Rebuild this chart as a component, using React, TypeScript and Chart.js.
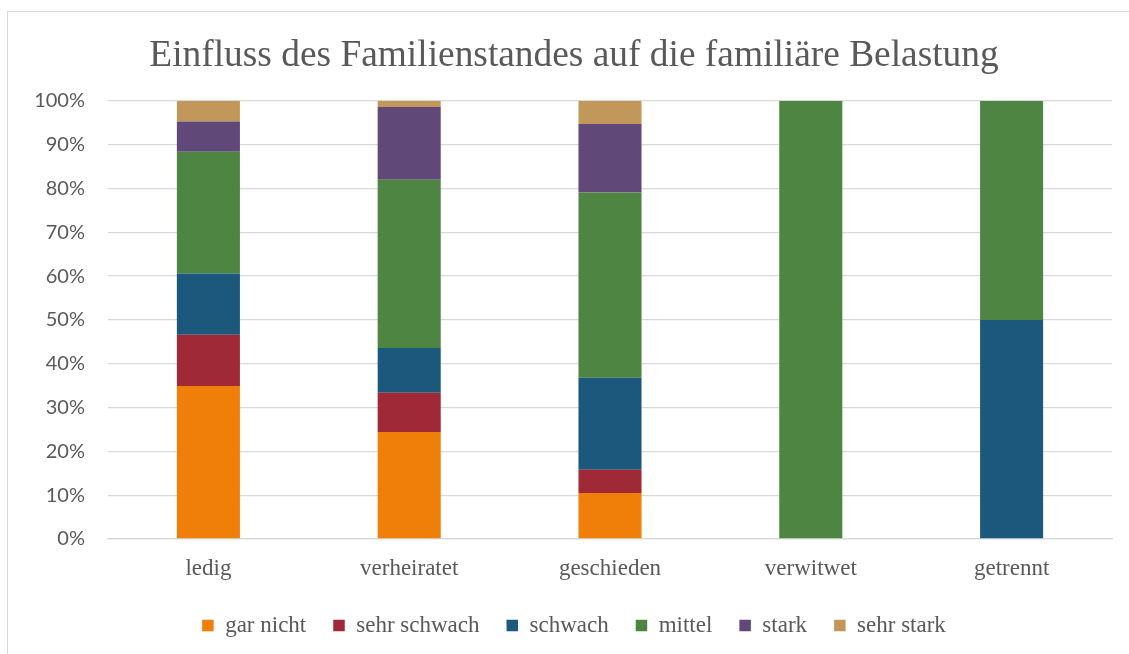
import React, { useEffect, useRef } from "react";
import { Chart, registerables } from "chart.js";

Chart.register(...registerables);

const categories = ["ledig", "verheiratet", "geschieden", "verwitwet", "getrennt"];
const seriesNames = ["gar nicht", "sehr schwach", "schwach", "mittel", "stark", "sehr stark"];
const garNicht = [34.9, 24.4, 10.5, 0, 0];
const sehrSchwach = [11.7, 9.0, 5.3, 0, 0];
const schwach = [14.0, 10.2, 21.0, 0, 50];
const mittel = [27.8, 38.4, 42.3, 100, 50];
const stark = [6.9, 16.6, 15.6, 0, 0];
const sehrStark = [4.7, 1.4, 5.3, 0, 0];
const seriesColors = ["#F07F09", "#9F2936", "#1B587C", "#4E8542", "#604878", "#C19859"];
const title = "Einfluss des Familienstandes auf die familiäre Belastung";

export default function App() {
  const ref = useRef<HTMLCanvasElement | null>(null);
  useEffect(() => {
    if (!ref.current) return;
    const values = [garNicht, sehrSchwach, schwach, mittel, stark, sehrStark];
    const chart = new Chart(ref.current, {
      type: "bar",
      data: {
        labels: categories,
        datasets: seriesNames.map((name, i) => ({
          label: name,
          data: values[i],
          backgroundColor: seriesColors[i],
          borderWidth: 0,
          categoryPercentage: 1,
          barPercentage: 0.314,
        })),
      },
      options: {
        animation: false,
        responsive: false,
        maintainAspectRatio: false,
        layout: { padding: { left: 0, right: 0, top: 0, bottom: 7 } },
        plugins: {
          title: {
            display: true,
            text: title,
            color: "#595959",
            font: { family: "'Liberation Serif', 'Times New Roman', serif", size: 37.4, weight: "normal", lineHeight: 1.2 },
            padding: { top: 22, bottom: 22 },
          },
          legend: {
            position: "bottom",
            labels: {
              color: "#595959",
              font: { family: "'Liberation Serif', 'Times New Roman', serif", size: 23 },
              boxWidth: 11.5,
              boxHeight: 11.5,
              padding: 27,
            },
          },
          tooltip: { enabled: false },
        },
        scales: {
          x: {
            stacked: true,
            afterFit: (s: any) => { s.height = 48; },
            grid: { display: false, drawTicks: false },
            border: { display: true, color: "#d9d9d9", width: 1.3 },
            ticks: {
              color: "#595959",
              font: { family: "'Liberation Serif', 'Times New Roman', serif", size: 23, lineHeight: 1.2 },
              padding: 16,
            },
          },
          y: {
            stacked: true,
            min: 0,
            max: 100,
            afterFit: (s: any) => { s.width = 100; },
            grid: { color: "#d9d9d9", lineWidth: 1.3, drawTicks: false },
            border: { display: false },
            ticks: {
              stepSize: 10,
              color: "#595959",
              font: { family: "Lato, 'Open Sans', sans-serif", size: 20 },
              padding: 23,
              callback: (v: any) => v + "%",
            },
          },
          yr: {
            position: "right",
            min: 0,
            max: 1,
            display: true,
            afterFit: (s: any) => { s.width = 28; },
            grid: { display: false, drawTicks: false },
            border: { display: false },
            ticks: { display: false },
          },
        },
      },
    });
    return () => chart.destroy();
  }, []);
  return (
    <div
      style={{
        position: "fixed",
        left: 7,
        top: 11,
        width: 1200,
        height: 700,
        borderLeft: "1px solid #d9d9d9",
        borderTop: "1px solid #d9d9d9",
        background: "#fff",
      }}
    >
      <canvas ref={ref} width={1132} height={642} style={{ display: "block", width: 1132, height: 642 }} />
    </div>
  );
}
